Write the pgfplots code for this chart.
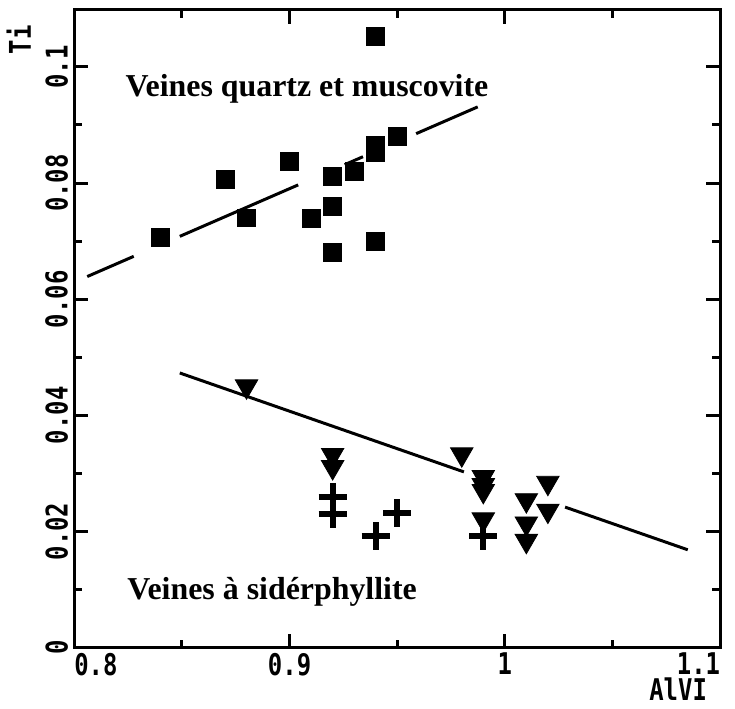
\documentclass[border=0pt]{standalone}
\usepackage{fontspec}
\setmainfont{Liberation Serif}
\newfontfamily\tickfont[FakeStretch=0.8]{DejaVu Sans Mono}
\usepackage{pgfplots}
\pgfplotsset{compat=1.18}
\newcommand\tf{\tickfont\bfseries\fontsize{15}{16}\selectfont}
\begin{document}
\begin{tikzpicture}
\begin{axis}[
  width=324pt, height=320pt, scale only axis,
  xmin=0.8, xmax=1.1, ymin=0, ymax=0.1098,
  axis line style={line width=1.5pt},
  xtick={0.8,0.9,1.0,1.1},
  xticklabels={\makebox[0pt][l]{0.8},0.9,1,\makebox[0pt][r]{1.1}},
  minor xtick={0.85,0.95,1.05},
  ytick={0,0.02,0.04,0.06,0.08,0.1},
  yticklabels={0,0.02,0.04,0.06,0.08,0.1},
  minor ytick={0.01,0.03,0.05,0.07,0.09},
  tick style={line width=1.5pt, black},
  major tick length=7pt, minor tick length=4pt,
  tick align=inside,
  ticklabel style={font=\tf},
  xticklabel style={anchor=north, inner sep=2.5pt},
  yticklabel style={rotate=90, anchor=south, inner sep=3pt},
  xlabel={AlVI}, ylabel={Ti},
  every axis x label/.style={at={(rel axis cs:0.935,-0.0656)}, anchor=center, font=\tf},
  every axis y label/.style={at={(rel axis cs:-0.086,0.953)}, anchor=center, rotate=90, font=\tf},
  clip=false,
]
% regression line, quartz-muscovite veins (broken)
\addplot[black, line width=1.5pt, no marks] coordinates {(0.806,0.0639) (0.8276,0.06738)};
\addplot[black, line width=1.5pt, no marks] coordinates {(0.849,0.07082) (0.904,0.07968)};
\addplot[black, line width=1.5pt, no marks] coordinates {(0.9256,0.08316) (0.9341,0.08453)};
\addplot[black, line width=1.5pt, no marks] coordinates {(0.9588,0.08850) (0.9874,0.09311)};
% regression line, siderophyllite veins
\addplot[black, line width=1.5pt, no marks] coordinates {(0.849,0.0473) (0.981,0.03027)};
\addplot[black, line width=1.5pt, no marks] coordinates {(1.028,0.02421) (1.085,0.01686)};
% squares
\addplot[only marks, mark=square*, mark size=4.5pt, black] coordinates {
(0.84,0.0707) (0.87,0.0806) (0.88,0.074) (0.90,0.0838) (0.91,0.0739)
(0.92,0.0811) (0.92,0.076) (0.92,0.068) (0.93,0.082) (0.94,0.0865)
(0.94,0.0852) (0.94,0.1052) (0.94,0.070) (0.95,0.088)};
% triangles
\addplot[only marks, mark=triangle*, mark size=6.5pt, mark options={rotate=180}, black] coordinates {
(0.88,0.045) (0.92,0.0332) (0.92,0.0311) (0.98,0.0333) (0.99,0.0294)
(0.99,0.028) (0.99,0.027) (0.99,0.0221) (1.01,0.0254) (1.01,0.0214)
(1.01,0.0184) (1.02,0.0284) (1.02,0.0236)};
% crosses
\addplot[only marks, mark=+, mark size=7pt, black, mark options={line width=3pt}] coordinates {
(0.92,0.026) (0.92,0.023) (0.94,0.0192) (0.95,0.0232) (0.99,0.0192)};
\node[anchor=base west, inner sep=0pt, font=\bfseries\fontsize{16}{18}\selectfont] at (axis cs:0.8236,0.0949) {Veines quartz et muscovite};
\node[anchor=base west, inner sep=0pt, font=\bfseries\fontsize{16}{18}\selectfont] at (axis cs:0.8245,0.00823) {Veines à sidérphyllite};
\path (rel axis cs:-0.1111,-0.0953) rectangle (rel axis cs:1.0231,1.0156);
\end{axis}
\end{tikzpicture}
\end{document}
